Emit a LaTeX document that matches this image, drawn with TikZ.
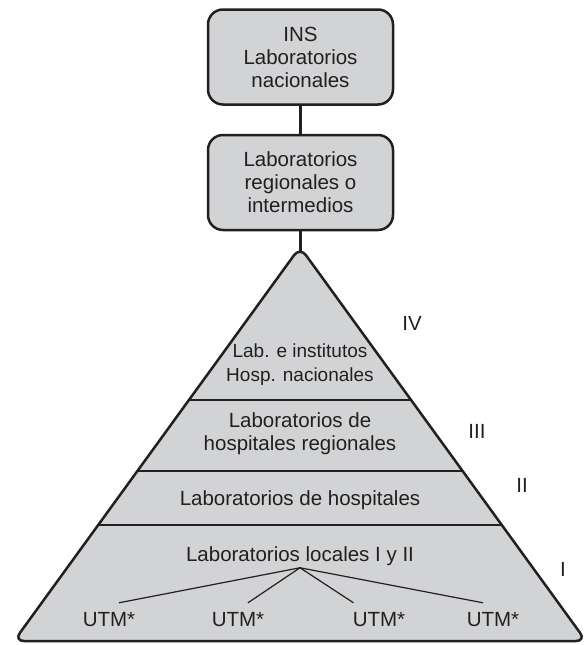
\documentclass[tikz,border=0pt]{standalone}
\usepackage{fontspec}
\setmainfont{Liberation Sans}
\usepackage{tikz}
\usetikzlibrary{positioning, calc}

\definecolor{ink}{HTML}{231F20}
\definecolor{pyrgray}{HTML}{D1D3D4}

\begin{document}
\begin{tikzpicture}[
        x=1pt, y=-1pt,
        every node/.style={font=\fontsize{20.5}{23}\selectfont, text=ink, align=center, inner sep=2pt},
        level/.style={rectangle, rounded corners=15pt, draw=ink, line width=2.5pt, fill=pyrgray, minimum width=185pt, minimum height=95pt},
        pyramid/.style={draw=ink, fill=pyrgray, line width=2.5pt, rounded corners=10pt, line join=round},
        tier/.style={draw=ink, line width=2.5pt},
        link/.style={draw=ink, line width=2.5pt},
        utm/.style={minimum height=34pt},
        fan/.style={draw=ink, line width=1.2pt}
    ]

    \useasboundingbox (0,0) rectangle (588,645);

    % Upper levels
    \node[level] (ins) at (300.5,57) {INS\\Laboratorios\\nacionales};
    \node[level] (reg) [below=28pt of ins] {Laboratorios\\regionales o\\intermedios};

    % Corners of the pyramid
    \coordinate (apex) at (300,247);
    \coordinate (bl) at (14,641);
    \coordinate (br) at (586,641);
    \coordinate (peak) at (300.5,253);

    % Pyramid and its tiers
    \filldraw[pyramid] (apex) -- (br) -- (bl) -- cycle;
    \foreach \t in {0.388, 0.569, 0.706}
        \draw[tier] ($(apex)!\t!(bl)$) -- ($(apex)!\t!(br)$);

    % Links between the levels
    \draw[link] (ins) -- (reg);
    \draw[link] (reg) -- (peak);

    % Tier texts
    \node[font=\fontsize{19}{24}\selectfont] (lab4) at (300,365) {Lab. e institutos\\Hosp. nacionales};
    \node (lab3) at (300,434) {Laboratorios de\\hospitales regionales};
    \node (lab2) at (300,500) {Laboratorios de hospitales};
    \node (lab1) at (300,556) {Laboratorios locales I y II};

    % Tier numbers
    \node (n4) at (412,323) {IV};
    \node (n3) at (477,431) {III};
    \node (n2) at (522,485) {II};
    \node (n1) at (563,569) {I};

    % Local units
    \node[utm] (u1) at (109,620) {UTM*};
    \node[utm] (u2) at (238,620) {UTM*};
    \node[utm] (u3) at (379,620) {UTM*};
    \node[utm] (u4) at (493,620) {UTM*};

    \foreach \u/\a in {u1/60, u2/60, u3/146, u4/120}
        \draw[fan] (lab1.south) -- (\u.\a);

\end{tikzpicture}
\end{document}
